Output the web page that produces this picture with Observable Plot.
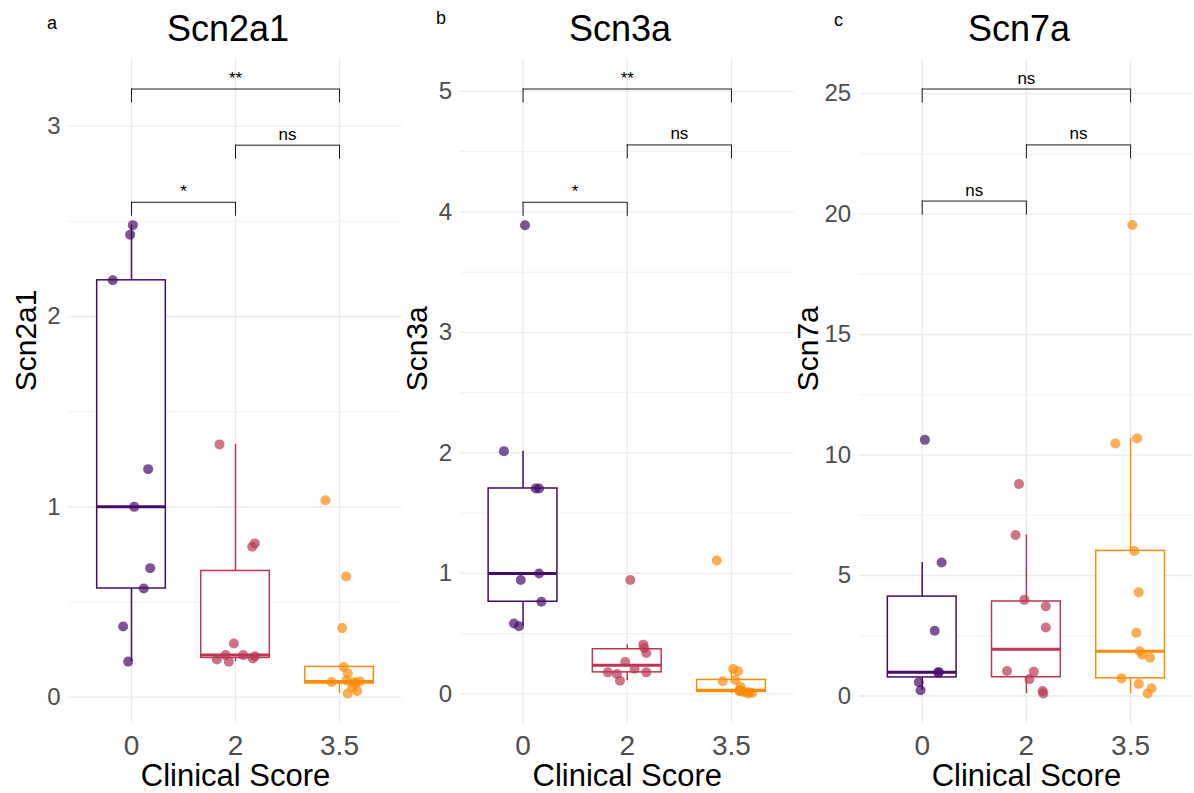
<!DOCTYPE html>
<html><head><meta charset="utf-8">
<script src="https://cdn.jsdelivr.net/npm/d3@7"></script>
<script src="https://cdn.jsdelivr.net/npm/@observablehq/plot@0.6"></script>
<style>
body{margin:0;background:#fff;font-family:"Liberation Sans",Arial,sans-serif;}
#root{position:relative;width:1194px;height:793px;overflow:hidden;background:#fff;}
.tag{position:absolute;font-size:18px;line-height:18px;color:#000;white-space:nowrap;}
.title{position:absolute;font-size:36px;line-height:36px;color:#000;white-space:nowrap;transform:translateX(-50%);}
.svgwrap{position:absolute;top:55px;}
</style></head><body><div id="root"></div>
<script>
// ---- categories and palette ----
const groups = ["0", "2", "3.5"];
const colors = ["#470B6A", "#BB3754", "#F98C0A"];
const genes = ["Scn2a1", "Scn3a", "Scn7a"];
const tags = ["a", "b", "c"];
const xTitle = "Clinical Score";

// ---- Scn2a1 (values + horizontal jitter in category units) ----
const scn2a1_g0 = [2.48, 2.43, 2.19, 1.198, 1.0, 0.678, 0.571, 0.371, 0.187];
const scn2a1_j0 = [0.013, -0.013, -0.18, 0.16, 0.026, 0.18, 0.118, -0.08, -0.032];
const scn2a1_g2 = [1.328, 0.808, 0.790, 0.282, 0.221, 0.221, 0.215, 0.198, 0.186, 0.203];
const scn2a1_j2 = [-0.154, 0.186, 0.16, -0.016, -0.096, 0.074, 0.186, -0.18, -0.064, 0.166];
const scn2a1_g35 = [1.035, 0.634, 0.363, 0.159, 0.124, 0.088, 0.083, 0.080, 0.078, 0.072, 0.051, 0.033, 0.019];
const scn2a1_j35 = [-0.135, 0.064, 0.026, 0.041, 0.08, 0.067, 0.195, -0.077, 0.135, 0.154, 0.122, 0.17, 0.08];

// ---- Scn3a ----
const scn3a_g0 = [3.89, 2.015, 1.705, 1.705, 1.0, 0.945, 0.765, 0.585, 0.561];
const scn3a_j0 = [0.019, -0.183, 0.122, 0.154, 0.154, -0.022, 0.176, -0.087, -0.038];
const scn3a_g2 = [0.945, 0.409, 0.381, 0.340, 0.265, 0.210, 0.179, 0.166, 0.179, 0.110];
const scn3a_j2 = [0.029, 0.154, 0.163, 0.183, -0.019, 0.07, -0.186, -0.099, 0.183, -0.07];
const scn3a_g35 = [1.108, 0.207, 0.188, 0.116, 0.105, 0.058, 0.030, 0.026, 0.022, 0.017, 0.013, 0.008, 0.003];
const scn3a_j35 = [-0.141, 0.016, 0.064, 0.036, -0.084, 0.087, 0.077, 0.096, 0.077, 0.115, 0.166, 0.199, 0.157];

// ---- Scn7a ----
const scn7a_g0 = [10.63, 5.54, 2.71, 0.99, 0.97, 0.57, 0.24];
const scn7a_j0 = [0.026, 0.186, 0.12, 0.16, 0.153, -0.033, -0.016];
const scn7a_g2 = [8.80, 6.68, 3.99, 3.72, 2.84, 1.04, 1.01, 0.70, 0.21, 0.10];
const scn7a_j2 = [-0.071, -0.104, -0.019, 0.186, 0.186, -0.186, 0.071, 0.029, 0.156, 0.162];
const scn7a_g35 = [19.55, 10.69, 10.48, 6.02, 4.30, 2.62, 1.86, 1.71, 1.59, 0.73, 0.50, 0.32, 0.10];
const scn7a_j35 = [0.016, 0.062, -0.146, 0.036, 0.078, 0.055, 0.087, 0.113, 0.188, -0.087, 0.078, 0.201, 0.163];

// ---- significance brackets ----
const bracketFrom = ["0", "2", "0"];
const bracketTo = ["2", "3.5", "3.5"];
const scn2a1_sig = ["*", "ns", "**"];
const scn2a1_sigY = [2.60, 2.90, 3.195];
const scn3a_sig = ["*", "ns", "**"];
const scn3a_sigY = [4.08, 4.556, 5.02];
const scn7a_sig = ["ns", "ns", "ns"];
const scn7a_sigY = [20.54, 22.87, 25.19];

// ---- y tick labels ----
const scn2a1_ticks = [0, 1, 2, 3];
const scn3a_ticks = [0, 1, 2, 3, 4, 5];
const scn7a_ticks = [0, 5, 10, 15, 20, 25];

const panels = [
  {vals: [scn2a1_g0, scn2a1_g2, scn2a1_g35], jit: [scn2a1_j0, scn2a1_j2, scn2a1_j35], ticks: scn2a1_ticks, sig: scn2a1_sig, sigY: scn2a1_sigY},
  {vals: [scn3a_g0, scn3a_g2, scn3a_g35], jit: [scn3a_j0, scn3a_j2, scn3a_j35], ticks: scn3a_ticks, sig: scn3a_sig, sigY: scn3a_sigY},
  {vals: [scn7a_g0, scn7a_g2, scn7a_g35], jit: [scn7a_j0, scn7a_j2, scn7a_j35], ticks: scn7a_ticks, sig: scn7a_sig, sigY: scn7a_sigY}
];

// layout (page pixels)
const layout = [
  {left: 0, width: 403, ml: 68.6, mr: 1.6, tagX: 47, tagY: 14, titleX: 228, yTitleDx: -43},
  {left: 398, width: 397, ml: 62, mr: 1.5, tagX: 436, tagY: 9, titleX: 620, yTitleDx: -43},
  {left: 796, width: 398, ml: 63.2, mr: 1.4, tagX: 834, tagY: 11, titleX: 1019, yTitleDx: -51}
];
const H = 738, MT = 3.3, MB = 69.7;

const root = document.getElementById("root");

panels.forEach((p, pi) => {
  const L = layout[pi];
  const pts = [];
  p.vals.forEach((arr, gi) => arr.forEach((v, k) => pts.push({gi, v, xj: gi + p.jit[gi][k]})));
  const stats = p.vals.map((arr, gi) => {
    const s = arr.slice().sort(d3.ascending);
    const q1 = d3.quantileSorted(s, 0.25), med = d3.quantileSorted(s, 0.5), q3 = d3.quantileSorted(s, 0.75);
    const iqr = q3 - q1;
    const hi = d3.max(s.filter(v => v <= q3 + 1.5 * iqr));
    const lo = d3.min(s.filter(v => v >= q1 - 1.5 * iqr));
    return {gi, q1, med, q3, hi, lo};
  });
  const ymin = d3.min(pts, d => d.v), ymax = d3.max(p.sigY);
  const R = ymax - ymin;
  const domain = [ymin - 0.05 * R, ymax + 0.05 * R];
  const plotH = H - MT - MB;
  const tip = 14 / plotH * (domain[1] - domain[0]);
  const minor = d3.pairs(p.ticks).map(([a, b]) => (a + b) / 2);
  const brackets = p.sig.map((s, k) => ({
    a: groups.indexOf(bracketFrom[k]), b: groups.indexOf(bracketTo[k]), y: p.sigY[k], label: s
  }));
  const cidx = groups.map((g, i) => i);
  const half = 0.33;

  const svg = Plot.plot({
    width: L.width, height: H,
    marginLeft: L.ml, marginRight: L.mr, marginTop: MT, marginBottom: MB,
    style: {fontFamily: "'Liberation Sans', Arial, sans-serif", background: "transparent", overflow: "visible"},
    x: {type: "linear", domain: [-0.6, 2.6]},
    y: {domain},
    color: {type: "ordinal", domain: cidx, range: colors},
    marks: [
      Plot.ruleY(minor, {stroke: "#ebebeb", strokeWidth: 0.7}),
      Plot.ruleY(p.ticks, {stroke: "#ebebeb", strokeWidth: 1.3}),
      Plot.ruleX(cidx, {stroke: "#ebebeb", strokeWidth: 1.3}),
      Plot.ruleX(stats, {x: "gi", y1: "q3", y2: "hi", stroke: "gi", strokeWidth: 1.5}),
      Plot.ruleX(stats, {x: "gi", y1: "lo", y2: "q1", stroke: "gi", strokeWidth: 1.5}),
      Plot.rect(stats, {x1: d => d.gi - half, x2: d => d.gi + half, y1: "q1", y2: "q3", fill: "white", stroke: "gi", strokeWidth: 1.5}),
      Plot.ruleY(stats, {x1: d => d.gi - half, x2: d => d.gi + half, y: "med", stroke: "gi", strokeWidth: 3}),
      Plot.dot(pts, {x: "xj", y: "v", fill: "gi", fillOpacity: 0.7, r: 5}),
      Plot.ruleY(brackets, {x1: "a", x2: "b", y: "y", stroke: "#1a1a1a", strokeWidth: 1}),
      Plot.ruleX(brackets, {x: "a", y1: "y", y2: d => d.y - tip, stroke: "#1a1a1a", strokeWidth: 1}),
      Plot.ruleX(brackets, {x: "b", y1: "y", y2: d => d.y - tip, stroke: "#1a1a1a", strokeWidth: 1}),
      Plot.text(brackets, {x: d => (d.a + d.b) / 2, y: "y", text: "label", lineAnchor: "bottom", dy: -5.5, fontSize: 17, fill: "#000"}),
      Plot.axisX(cidx, {tickFormat: i => groups[i], tickSize: 0, tickPadding: 11, fontSize: 28, fill: "#4d4d4d", label: null}),
      Plot.axisY(p.ticks, {tickFormat: d => String(d), tickSize: 0, tickPadding: 8.5, fontSize: 24, fill: "#4d4d4d", label: null}),
      Plot.text([genes[pi]], {frameAnchor: "left", rotate: -90, dx: L.yTitleDx, fontSize: 30, fill: "#000"}),
      Plot.text([xTitle], {frameAnchor: "bottom", lineAnchor: "bottom", dy: 62.5, fontSize: 31, fill: "#000"})
    ]
  });

  const wrap = document.createElement("div");
  wrap.className = "svgwrap";
  wrap.style.left = L.left + "px";
  wrap.appendChild(svg);
  root.appendChild(wrap);

  const t = document.createElement("div");
  t.className = "title";
  t.style.left = L.titleX + "px";
  t.style.top = "11px";
  t.textContent = genes[pi];
  root.appendChild(t);

  const tg = document.createElement("div");
  tg.className = "tag";
  tg.style.left = L.tagX + "px";
  tg.style.top = L.tagY + "px";
  tg.textContent = tags[pi];
  root.appendChild(tg);
});
</script></body></html>
